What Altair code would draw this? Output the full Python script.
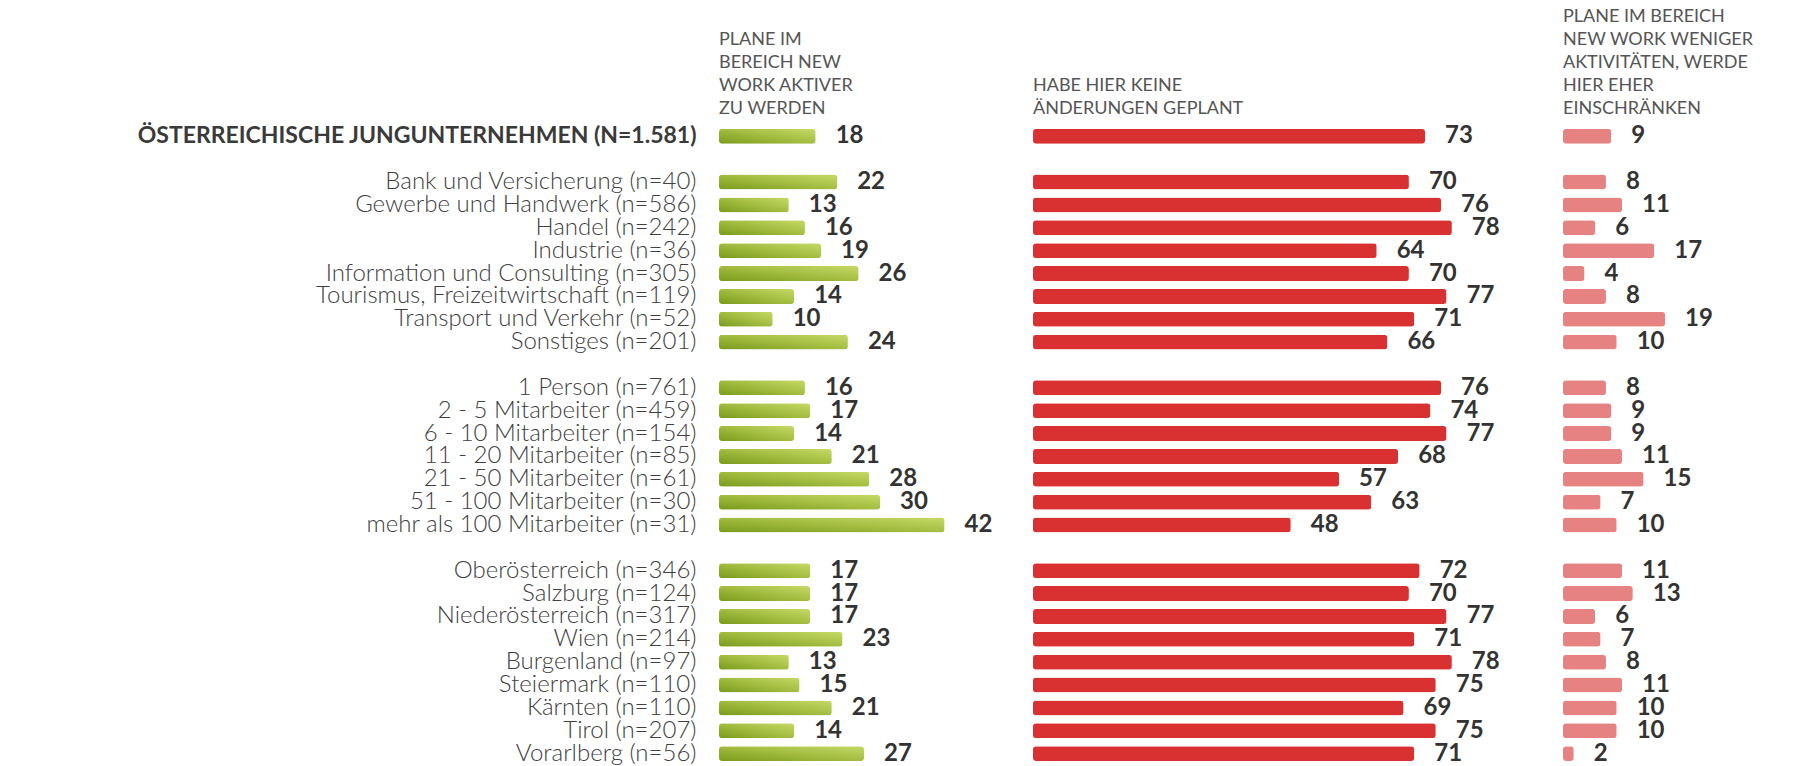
import altair as alt
import pandas as pd

# ---- data -------------------------------------------------------------
TOTAL_LABEL = "ÖSTERREICHISCHE JUNGUNTERNEHMEN (N=1.581)"

categories = [
    TOTAL_LABEL,
    "Bank und Versicherung (n=40)",
    "Gewerbe und Handwerk (n=586)",
    "Handel (n=242)",
    "Industrie (n=36)",
    "Information und Consulting (n=305)",
    "Tourismus, Freizeitwirtschaft (n=119)",
    "Transport und Verkehr (n=52)",
    "Sonstiges (n=201)",
    "1 Person (n=761)",
    "2 - 5 Mitarbeiter (n=459)",
    "6 - 10 Mitarbeiter (n=154)",
    "11 - 20 Mitarbeiter (n=85)",
    "21 - 50 Mitarbeiter (n=61)",
    "51 - 100 Mitarbeiter (n=30)",
    "mehr als 100 Mitarbeiter (n=31)",
    "Oberösterreich (n=346)",
    "Salzburg (n=124)",
    "Niederösterreich (n=317)",
    "Wien (n=214)",
    "Burgenland (n=97)",
    "Steiermark (n=110)",
    "Kärnten (n=110)",
    "Tirol (n=207)",
    "Vorarlberg (n=56)",
]

aktiver = [18, 22, 13, 16, 19, 26, 14, 10, 24,
           16, 17, 14, 21, 28, 30, 42,
           17, 17, 17, 23, 13, 15, 21, 14, 27]
keine = [73, 70, 76, 78, 64, 70, 77, 71, 66,
         76, 74, 77, 68, 57, 63, 48,
         72, 70, 77, 71, 78, 75, 69, 75, 71]
weniger = [9, 8, 11, 6, 17, 4, 8, 19, 10,
           8, 9, 9, 11, 15, 7, 10,
           11, 13, 6, 7, 8, 11, 10, 10, 2]

header_aktiver = ["PLANE IM", "BEREICH NEW", "WORK AKTIVER", "ZU WERDEN"]
header_keine = ["HABE HIER KEINE", "ÄNDERUNGEN GEPLANT"]
header_weniger = ["PLANE IM BEREICH", "NEW WORK WENIGER", "AKTIVITÄTEN, WERDE",
                  "HIER EHER", "EINSCHRÄNKEN"]

# row order with empty spacer rows between the groups
gap1, gap2, gap3 = " ", "  ", "   "
row_order = ([categories[0], gap1] + categories[1:9] + [gap2]
             + categories[9:16] + [gap3] + categories[16:])

df = pd.DataFrame({"cat": categories, "aktiver": aktiver,
                   "keine": keine, "weniger": weniger})

# ---- styling ----------------------------------------------------------
FONT = "Lato"
PX_PER_UNIT = 5.37
PLOT_H = 640
y_scale = alt.Scale(domain=row_order, paddingInner=0.345, paddingOuter=0.17)
is_total = f"datum.value == '{TOTAL_LABEL}'"


def header(lines):
    return alt.TitleParams(text=lines, anchor="start", frame="group",
                           font=FONT, fontSize=18, fontWeight="normal",
                           color="#555555", lineHeight=23, offset=6)


def panel(field, color, width, lines, with_axis=False):
    if with_axis:
        yax = alt.Axis(
            title=None, ticks=False, domain=False, grid=False,
            labelPadding=23, labelLimit=900, minExtent=711,
            labelFont=FONT,
            labelColor={"condition": {"test": is_total, "value": "#3a3a3a"},
                        "value": "#404040"},
            labelFontSize={"condition": {"test": is_total, "value": 23},
                           "value": 24},
            labelFontWeight={"condition": {"test": is_total, "value": "bold"},
                             "value": 300},
        )
    else:
        yax = None
    x = alt.X(f"{field}:Q", axis=None,
              scale=alt.Scale(domain=[0, width / PX_PER_UNIT], nice=False, zero=True))
    y = alt.Y("cat:N", sort=row_order, scale=y_scale, axis=yax)
    bars = alt.Chart(df).mark_bar(color=color, cornerRadius=3).encode(x=x, y=y)
    labels = alt.Chart(df).mark_text(
        align="left", baseline="middle", dx=20, font=FONT, fontSize=24,
        fontWeight="bold", color="#333333",
    ).encode(x=x, y=y, text=alt.Text(f"{field}:Q"))
    return alt.layer(bars, labels).properties(width=width, height=PLOT_H,
                                              title=header(lines))


green = alt.LinearGradient(
    gradient="linear", x1=0, y1=1, x2=1, y2=0,
    stops=[alt.GradientStop(color="#7a9a1c", offset=0),
           alt.GradientStop(color="#a2bc40", offset=0.5),
           alt.GradientStop(color="#c6da66", offset=1)],
)

chart = alt.hconcat(
    panel("aktiver", green, 314, header_aktiver, with_axis=True),
    panel("keine", "#d93131", 530, header_keine),
    panel("weniger", "#e78282", 229, header_weniger),
    spacing=0,
).resolve_scale(x="independent", y="independent").properties(
    padding=0, background="white"
).configure_view(strokeWidth=0, stroke=None)

chart.save("out.html", embed_options={"renderer": "svg", "actions": False})
